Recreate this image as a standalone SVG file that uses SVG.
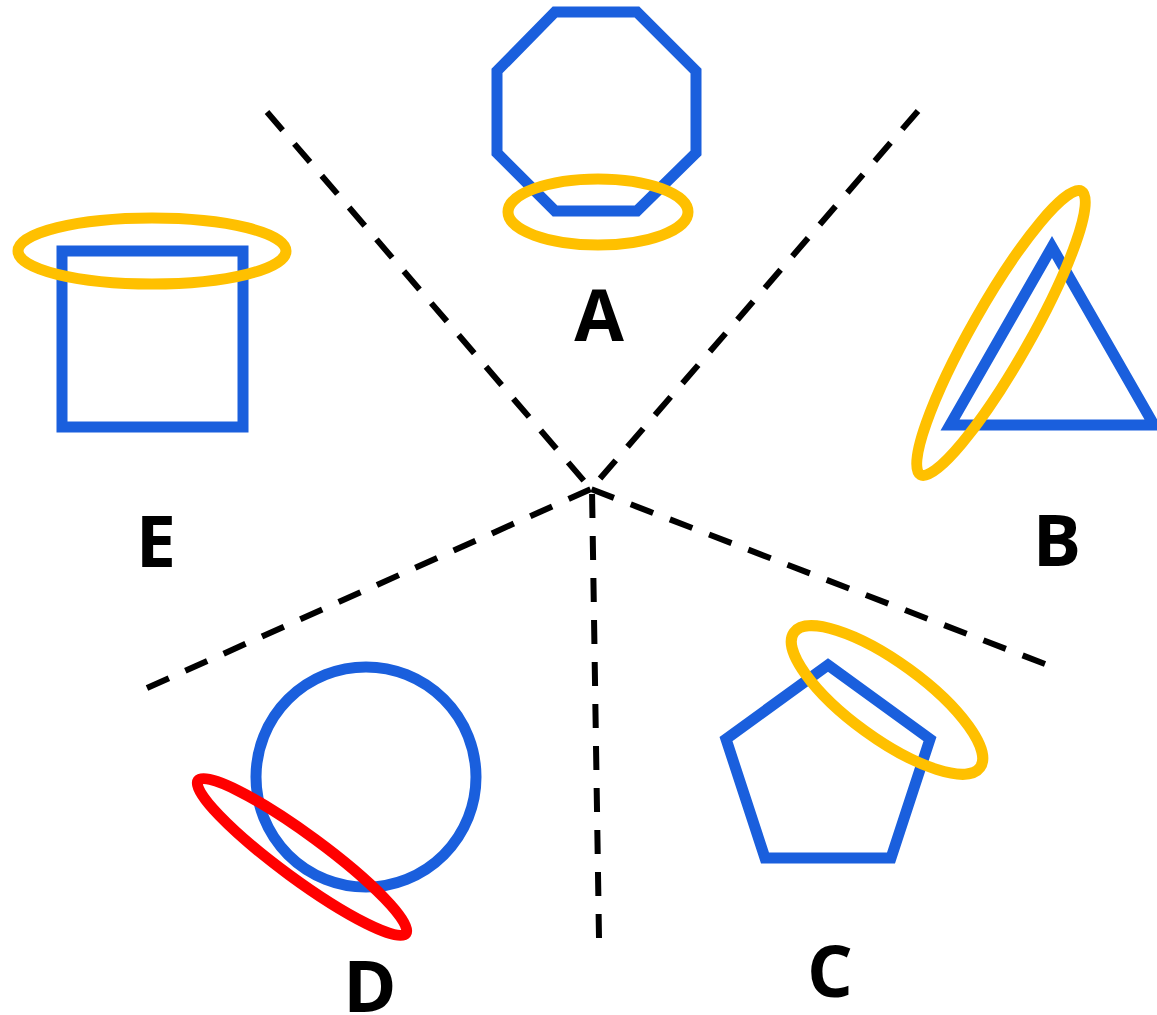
<svg xmlns="http://www.w3.org/2000/svg" width="1157" height="1015" viewBox="0 0 1157 1015">
  <style>
    .shape { fill: none; stroke: #1a5fdd; stroke-width: 11; }
    .halo { fill: none; stroke: #ffc000; stroke-width: 11; }
    .halo-red { fill: none; stroke: #ff0000; stroke-width: 11; }
    .edge { fill: none; stroke: #000000; stroke-width: 6; stroke-dasharray: 24 18; stroke-linecap: butt; }
    .label { font-family: "Open Sans", "Noto Sans", "Liberation Sans", sans-serif; font-weight: 700; font-size: 72px; fill: #000000; text-anchor: middle; }
  </style>
  <rect x="0" y="0" width="1157" height="1015" fill="#ffffff"/>
  <g id="connectors">
    <line class="edge" x1="267" y1="112" x2="591" y2="489"/>
    <line class="edge" x1="918" y1="111" x2="591" y2="489"/>
    <line class="edge" x1="1045" y1="664" x2="591" y2="489"/>
    <line class="edge" x1="147" y1="688" x2="591" y2="489"/>
    <line class="edge" x1="599" y1="938" x2="592" y2="489"/>
  </g>
  <g id="node-A">
    <polygon class="shape" points="555,12 637,12 696,71 696,153 637,211 555,211 497,153 497,71"/>
    <ellipse class="halo" cx="598" cy="212" rx="90" ry="33"/>
    <text class="label" x="599" y="341">A</text>
  </g>
  <g id="node-B">
    <polygon class="shape" points="1052,247 1154,425 950,425"/>
    <ellipse class="halo" cx="0" cy="0" rx="163" ry="29" transform="translate(1001,333) rotate(-60.4)"/>
    <text class="label" x="1057" y="566">B</text>
  </g>
  <g id="node-C">
    <polygon class="shape" points="828,665 930,739 891,858 765,858 726,739"/>
    <ellipse class="halo" cx="0" cy="0" rx="115" ry="38" transform="translate(887,700) rotate(36)"/>
    <text class="label" x="830" y="997">C</text>
  </g>
  <g id="node-D">
    <circle class="shape" cx="366" cy="777" r="110"/>
    <ellipse class="halo-red" cx="0" cy="0" rx="129" ry="22" transform="translate(302,857) rotate(36.3)"/>
    <text class="label" x="370" y="1012">D</text>
  </g>
  <g id="node-E">
    <rect class="shape" x="62" y="251" width="181" height="176"/>
    <ellipse class="halo" cx="152" cy="251" rx="134" ry="33"/>
    <text class="label" x="156" y="567">E</text>
  </g>
</svg>
